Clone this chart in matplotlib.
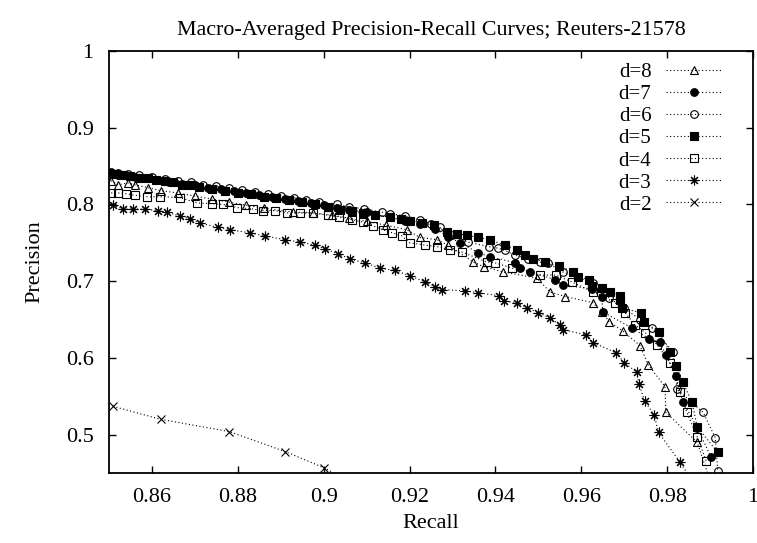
import matplotlib
matplotlib.use("Agg")
import matplotlib.pyplot as plt

plt.rcParams['font.family'] = ['Liberation Serif', 'DejaVu Serif']

title = "Macro-Averaged Precision-Recall Curves; Reuters-21578"
xlabel = "Recall"
ylabel = "Precision"

xticks = [0.86, 0.88, 0.90, 0.92, 0.94, 0.96, 0.98, 1.0]
xticklabels = ["0.86", "0.88", "0.9", "0.92", "0.94", "0.96", "0.98", "1"]
yticks = [0.5, 0.6, 0.7, 0.8, 0.9, 1.0]
yticklabels = ["0.5", "0.6", "0.7", "0.8", "0.9", "1"]

labels = ["d=8", "d=7", "d=6", "d=5", "d=4", "d=3", "d=2"]

rec_d8 = [0.8505, 0.8521, 0.8544, 0.8561, 0.859, 0.862, 0.866, 0.870, 0.874, 0.878, 0.882, 0.886,
          0.8929, 0.8975, 0.902, 0.906, 0.910, 0.9145, 0.9194, 0.9224, 0.9264, 0.929, 0.9348,
          0.9373, 0.9418, 0.9497, 0.9527, 0.9562, 0.9627, 0.9648, 0.9665, 0.9697, 0.9737,
          0.9756, 0.9795, 0.9797, 0.987, 0.990]
pre_d8 = [0.831, 0.8255, 0.828, 0.8255, 0.822, 0.818, 0.815, 0.811, 0.807, 0.803, 0.799, 0.795,
          0.790, 0.789, 0.786, 0.782, 0.778, 0.773, 0.767, 0.757, 0.754, 0.747, 0.725,
          0.719, 0.712, 0.704, 0.686, 0.680, 0.672, 0.660, 0.647, 0.635, 0.616,
          0.591, 0.5625, 0.529, 0.490, 0.44]

rec_d7 = [0.8505, 0.852, 0.854, 0.856, 0.858, 0.861, 0.864, 0.867, 0.870, 0.873, 0.876, 0.879,
          0.882, 0.885, 0.888, 0.891, 0.894, 0.897, 0.900, 0.903, 0.906, 0.910, 0.9154, 0.919,
          0.9224, 0.926, 0.929, 0.9318, 0.936, 0.9387, 0.9446, 0.9457, 0.9481, 0.9539, 0.9557,
          0.9625, 0.9648, 0.965, 0.9718, 0.9758, 0.9783, 0.9797, 0.982, 0.9837, 0.987, 0.9902]
pre_d7 = [0.840, 0.839, 0.838, 0.836, 0.834, 0.832, 0.829, 0.827, 0.825, 0.822, 0.820, 0.818,
          0.815, 0.812, 0.810, 0.807, 0.805, 0.802, 0.799, 0.796, 0.793, 0.790, 0.783, 0.779,
          0.775, 0.768, 0.758, 0.750, 0.737, 0.732, 0.724, 0.717, 0.712, 0.702, 0.695,
          0.690, 0.680, 0.660, 0.639, 0.625, 0.621, 0.604, 0.576, 0.543, 0.509, 0.471]

rec_d6 = [0.8505, 0.852, 0.8545, 0.857, 0.860, 0.863, 0.866, 0.869, 0.872, 0.875, 0.878, 0.881,
          0.884, 0.887, 0.890, 0.893, 0.896, 0.899, 0.903, 0.906, 0.9095, 0.9136, 0.9154, 0.919,
          0.9224, 0.925, 0.927, 0.930, 0.9336, 0.9385, 0.9406, 0.9422, 0.9446, 0.9475, 0.9504,
          0.9522, 0.9557, 0.9627, 0.9665, 0.970, 0.9737, 0.9765, 0.9814, 0.9823, 0.9884,
          0.9912, 0.9918]
pre_d6 = [0.842, 0.841, 0.840, 0.838, 0.836, 0.833, 0.831, 0.829, 0.826, 0.824, 0.821, 0.819,
          0.816, 0.813, 0.811, 0.809, 0.806, 0.803, 0.800, 0.797, 0.794, 0.790, 0.788, 0.785,
          0.780, 0.775, 0.770, 0.760, 0.751, 0.745, 0.743, 0.740, 0.734, 0.729, 0.725,
          0.724, 0.712, 0.698, 0.678, 0.665, 0.650, 0.639, 0.608, 0.559, 0.529,
          0.496, 0.453]

rec_d5 = [0.850, 0.8515, 0.853, 0.855, 0.857, 0.859, 0.861, 0.863, 0.865, 0.867, 0.869, 0.871,
          0.874, 0.877, 0.880, 0.883, 0.886, 0.889, 0.892, 0.895, 0.898, 0.901, 0.9038, 0.9065,
          0.9092, 0.912, 0.9154, 0.918, 0.9201, 0.923, 0.9257, 0.9287, 0.931, 0.9334, 0.936,
          0.9387, 0.9422, 0.945, 0.9469, 0.9488, 0.9516, 0.9548, 0.9581, 0.9592, 0.9618,
          0.9625, 0.9648, 0.9667, 0.969, 0.969, 0.9695, 0.9739, 0.9746, 0.9781, 0.9807,
          0.9821, 0.9837, 0.9858, 0.987, 0.9918]
pre_d5 = [0.841, 0.840, 0.839, 0.837, 0.835, 0.834, 0.832, 0.830, 0.829, 0.826, 0.825, 0.823,
          0.820, 0.818, 0.815, 0.813, 0.810, 0.808, 0.806, 0.803, 0.800, 0.797, 0.793, 0.791,
          0.789, 0.786, 0.783, 0.781, 0.779, 0.776, 0.773, 0.764, 0.762, 0.760, 0.757,
          0.754, 0.747, 0.741, 0.734, 0.729, 0.725, 0.720, 0.712, 0.706, 0.702,
          0.694, 0.691, 0.686, 0.681, 0.675, 0.665, 0.659, 0.647, 0.634, 0.608,
          0.590, 0.568, 0.542, 0.510, 0.477]

rec_d4 = [0.8505, 0.852, 0.854, 0.856, 0.8589, 0.8619, 0.8665, 0.8705, 0.874, 0.8766, 0.8798,
          0.8835, 0.8859, 0.8887, 0.8915, 0.8945, 0.8975, 0.901, 0.9035, 0.9066, 0.9092, 0.9115,
          0.9138, 0.916, 0.9182, 0.920, 0.9236, 0.9264, 0.9294, 0.9322, 0.938, 0.9399, 0.9439,
          0.9504, 0.9541, 0.9578, 0.9627, 0.9679, 0.9702, 0.9725, 0.9749, 0.9777, 0.9807,
          0.983, 0.9846, 0.987, 0.9891]
pre_d4 = [0.815, 0.815, 0.814, 0.812, 0.810, 0.810, 0.809, 0.802, 0.801, 0.800, 0.796,
          0.794, 0.792, 0.792, 0.789, 0.789, 0.789, 0.786, 0.784, 0.780, 0.777, 0.772,
          0.767, 0.763, 0.759, 0.750, 0.747, 0.745, 0.741, 0.738, 0.725, 0.724, 0.717,
          0.708, 0.708, 0.699, 0.686, 0.672, 0.659, 0.643, 0.633, 0.617, 0.594,
          0.555, 0.529, 0.497, 0.466]

rec_d3 = [0.8509, 0.8533, 0.8556, 0.8584, 0.8614, 0.8635, 0.8665, 0.8689, 0.8712, 0.8754,
          0.8782, 0.8828, 0.8863, 0.891, 0.8945, 0.898, 0.9003, 0.9033, 0.9061, 0.9096, 0.9131,
          0.9166, 0.9201, 0.9236, 0.926, 0.9276, 0.933, 0.936, 0.9408, 0.942, 0.945, 0.9474,
          0.950, 0.9527, 0.955, 0.9557, 0.961, 0.9627, 0.968, 0.970, 0.973, 0.9734, 0.9748,
          0.977, 0.978, 0.983, 0.987]
pre_d3 = [0.7995, 0.794, 0.794, 0.794, 0.7917, 0.790, 0.785, 0.781, 0.776, 0.770,
          0.767, 0.763, 0.759, 0.754, 0.751, 0.747, 0.742, 0.736, 0.729, 0.724, 0.717,
          0.714, 0.707, 0.699, 0.693, 0.689, 0.6875, 0.685, 0.681, 0.674, 0.672, 0.665,
          0.659, 0.652, 0.643, 0.637, 0.630, 0.620, 0.607, 0.594, 0.581, 0.566, 0.544,
          0.525, 0.503, 0.464, 0.43]

rec_d2 = [0.8509, 0.862, 0.878, 0.891, 0.900, 0.906]
pre_d2 = [0.537, 0.520, 0.504, 0.478, 0.457, 0.44]

series = [(rec_d8, pre_d8), (rec_d7, pre_d7), (rec_d6, pre_d6), (rec_d5, pre_d5),
          (rec_d4, pre_d4), (rec_d3, pre_d3), (rec_d2, pre_d2)]
styles = [
    dict(marker='^', fillstyle='none', markersize=5.5),
    dict(marker='o', fillstyle='full', markersize=5.5),
    dict(marker='o', fillstyle='none', markersize=5.5),
    dict(marker='s', fillstyle='full', markersize=5.5),
    dict(marker='s', fillstyle='none', markersize=5.5),
    dict(marker=(8, 2, 0), fillstyle='full', markersize=7),
    dict(marker='x', fillstyle='full', markersize=5.5),
]

fig = plt.figure(figsize=(7.57, 5.43), dpi=100)
ax = fig.add_axes([109/757, (543-473)/543, (753-109)/757, (473-51)/543])

for (xs, ys), lab, st in zip(series, labels, styles):
    ax.plot(xs, ys, color='black', linestyle=(0, (1, 2.2)), linewidth=0.8,
            markeredgewidth=0.8, markeredgecolor='black', markerfacecolor='black',
            label=lab, **st)

ax.set_xlim(0.85, 1.0)
ax.set_ylim(0.45, 1.0)
ax.set_xticks(xticks)
ax.set_xticklabels(xticklabels)
ax.set_yticks(yticks)
ax.set_yticklabels(yticklabels)
ax.tick_params(direction='in', length=5, width=1, labelsize=16, top=True, right=True,
               pad=11)
for sp in ax.spines.values():
    sp.set_linewidth(1.3)

ax.set_xlabel(xlabel, fontsize=16, labelpad=5)
ax.set_ylabel(ylabel, fontsize=16, labelpad=15.5)
ax.set_title(title, fontsize=15.8, pad=11.5)

leg = ax.legend(loc='upper right', markerfirst=False, frameon=False, fontsize=15,
                handlelength=2.7, handletextpad=0.7, labelspacing=0.12, numpoints=1,
                borderaxespad=0.3, bbox_to_anchor=(0.975, 1.007))

fig.savefig("out.png", dpi=100)
